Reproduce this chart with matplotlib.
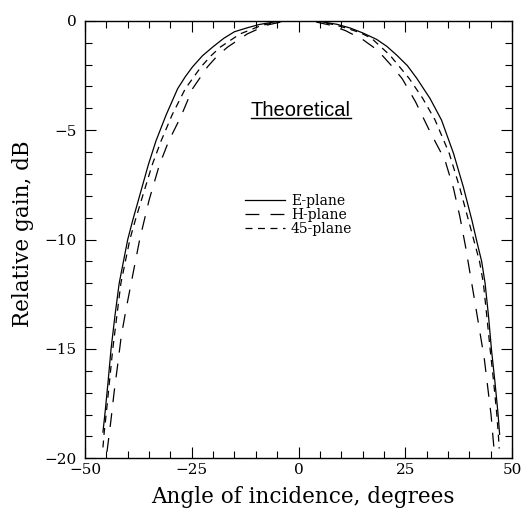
import matplotlib
matplotlib.use("Agg")
import matplotlib.pyplot as plt
from matplotlib.ticker import MultipleLocator

plt.rcParams['lines.scale_dashes'] = False
serif = ['DejaVu Serif']

# left side then right side
e_plane_angle = [-45.8, -45.3, -44.6, -43.9, -43.0, -42.0, -41.0, -40.0, -38.8, -37.5,
                 -35.2, -33.4, -31.0, -28.3, -26.5, -24.8, -22.5, -20.1, -17.5, -15.0,
                 -12.0, -9.2, -5.0, 0.0,
                 5.0, 9.0, 12.1, 15.0, 18.3, 20.7, 23.0, 25.5, 27.7, 30.8, 33.5, 36.3, 38.6,
                 40.6, 41.9, 42.9, 43.7, 44.5, 45.2, 46.0, 46.7, 47.1]
e_plane_gain = [-18.8, -17.9, -16.5, -15.0, -13.5, -12.0, -11.0, -10.0, -9.1, -8.2,
                -6.6, -5.5, -4.3, -3.1, -2.55, -2.1, -1.6, -1.2, -0.8, -0.5,
                -0.32, -0.17, -0.03, 0.0,
                -0.03, -0.16, -0.33, -0.55, -0.85, -1.17, -1.57, -2.05, -2.63, -3.55, -4.54, -6.06, -7.59,
                -9.11, -10.2, -11.0, -12.0, -13.5, -15.05, -16.5, -17.9, -18.9]

h_plane_angle = [-44.85, -43.95, -43.2, -42.4, -41.5, -40.4, -39.2, -37.2, -35.0, -32.6,
                 -30.4, -27.6, -24.8, -21.3, -19.0, -16.6, -12.0, -7.5, -3.5, 0.0,
                 3.5, 7.5, 11.0, 15.0, 17.5, 19.7, 22.0, 24.3, 27.4, 30.8, 34.3, 36.3,
                 37.8, 39.1, 41.3, 43.5, 45.1, 45.8]
h_plane_gain = [-19.7, -18.3, -17.0, -15.8, -14.4, -13.2, -12.0, -10.0, -8.2, -6.6,
                -5.5, -4.4, -3.1, -2.1, -1.6, -1.2, -0.6, -0.2, -0.03, 0.0,
                -0.03, -0.2, -0.45, -0.85, -1.2, -1.6, -2.1, -2.65, -3.7, -5.07, -6.37, -7.66,
                -8.96, -10.3, -12.84, -15.43, -18.02, -19.6]

p45_angle = [-45.8, -45.5, -45.0, -43.5, -41.6, -39.5, -38.2, -36.8, -34.3, -32.2,
             -29.6, -26.5, -22.8, -20.5, -18.3, -13.7, -8.5, -4.0, 0.0,
             4.5, 8.4, 11.5, 14.5, 17.1, 21.4, 25.9, 29.1, 32.0, 35.3, 37.7,
             39.8, 41.3, 42.4, 43.3, 44.1, 44.9, 45.7, 46.4, 46.8, 47.0]
p45_gain = [-19.5, -18.8, -17.9, -15.0, -12.0, -10.0, -9.1, -8.2, -6.6, -5.5,
            -4.3, -3.1, -2.1, -1.6, -1.2, -0.6, -0.2, -0.03, 0.0,
            -0.03, -0.18, -0.35, -0.55, -0.8, -1.57, -2.63, -3.55, -4.54, -6.06, -7.59,
            -9.11, -10.2, -11.0, -12.0, -13.5, -15.05, -16.5, -17.9, -18.9, -19.55]

fig = plt.figure(figsize=(5.28, 5.11), dpi=100)
ax = fig.add_axes([0.161, 0.103, 0.8087, 0.8563])

ax.plot(e_plane_angle, e_plane_gain, color='k', lw=0.9, label='E-plane')
ax.plot(h_plane_angle, h_plane_gain, color='k', lw=0.9, dashes=(10, 8), label='H-plane')
ax.plot(p45_angle, p45_gain, color='k', lw=0.9, dashes=(5, 4), label='45-plane')

ax.set_xlim(-50, 50)
ax.set_ylim(-20, 0)
ax.set_xticks([-50, -25, 0, 25, 50])
ax.set_yticks([-20, -15, -10, -5, 0])
ax.xaxis.set_minor_locator(MultipleLocator(5))
ax.yaxis.set_minor_locator(MultipleLocator(1))
ax.tick_params(which='both', direction='in', top=True, right=True, width=0.8)
ax.tick_params(which='major', length=8)
ax.tick_params(which='minor', length=5)
ax.tick_params(axis='x', pad=3)
ax.tick_params(axis='y', pad=6)
for lab in ax.get_xticklabels() + ax.get_yticklabels():
    lab.set_family(serif)
    lab.set_fontsize(11)
for s in ax.spines.values():
    s.set_linewidth(1.0)

ax.set_xlabel('Angle of incidence, degrees', family=serif, fontsize=15.5)
ax.set_ylabel('Relative gain, dB', family=serif, fontsize=15.5)
ax.xaxis.set_label_coords(0.51, -0.064)
ax.yaxis.set_label_coords(-0.12, 0.513)

leg = ax.legend(loc='upper left', bbox_to_anchor=(0.375, 0.604), frameon=False,
                borderpad=0, borderaxespad=0, handlelength=2.9, handletextpad=0.4,
                labelspacing=0, prop={'family': serif, 'size': 10})

t = ax.text(0.5, -4.1, 'Theoretical', ha='center', va='center',
            family='Liberation Sans', fontsize=14.5)
fig.canvas.draw()
bb = t.get_window_extent().transformed(ax.transData.inverted())
ax.plot([bb.x0, bb.x1], [-4.42, -4.42], color='k', lw=1.0)

fig.savefig('out.png', dpi=100)
